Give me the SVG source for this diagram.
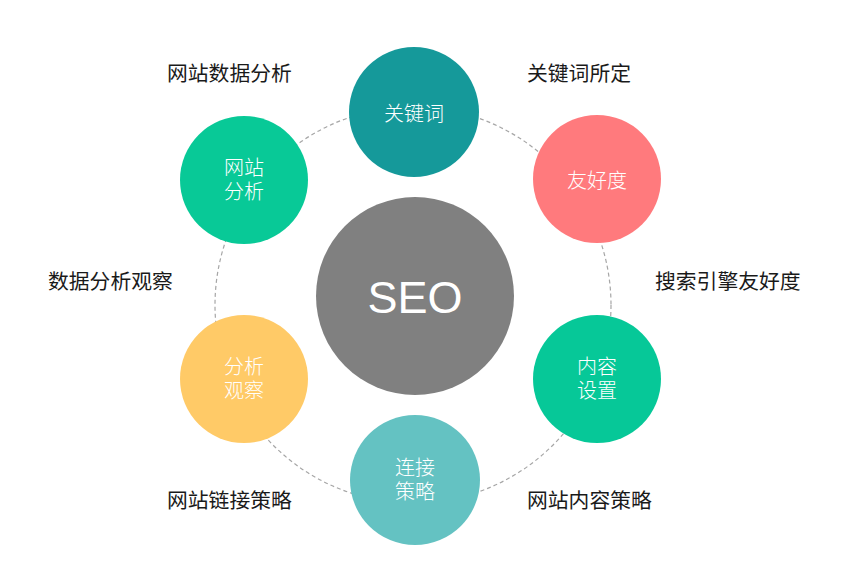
<svg xmlns="http://www.w3.org/2000/svg" width="854" height="564" viewBox="0 0 854 564">
<style>
.ring{fill:none;stroke:#a6a6a6;stroke-width:1.2;stroke-dasharray:4 3}
.in{font-family:"Noto Sans CJK SC","Noto Sans",sans-serif;font-size:20px;font-weight:300;fill:#ffffff;text-anchor:middle}
.out{font-family:"Noto Sans CJK SC","Noto Sans",sans-serif;font-size:20.8px;font-weight:400;fill:#1a1a1a;text-anchor:start}
.seo{font-family:"Liberation Sans",Arial,sans-serif;font-size:45px;fill:#ffffff;text-anchor:middle}
</style>
<rect width="854" height="564" fill="#ffffff"/>
<g id="connectors">
<circle class="ring" cx="413" cy="305" r="198"/>
</g>
<g id="seo">
<circle cx="415" cy="296" r="99" fill="#808080"/>
<text class="seo" x="415" y="313">SEO</text>
</g>
<g id="keyword">
<circle cx="414" cy="112" r="65" fill="#15999a"/>
<text class="in" x="414" y="121">关键词</text>
</g>
<g id="friendly">
<circle cx="597" cy="179" r="64" fill="#ff7a7d"/>
<text class="in" x="597" y="188">友好度</text>
</g>
<g id="content">
<circle cx="597" cy="379" r="64" fill="#06c898"/>
<text class="in" x="597" y="374">内容<tspan x="597" dy="24">设置</tspan></text>
</g>
<g id="link">
<circle cx="415" cy="480" r="65" fill="#64c2c2"/>
<text class="in" x="415" y="475">连接<tspan x="415" dy="24">策略</tspan></text>
</g>
<g id="observe">
<circle cx="244" cy="379" r="64" fill="#ffca67"/>
<text class="in" x="244" y="374">分析<tspan x="244" dy="24">观察</tspan></text>
</g>
<g id="analysis">
<circle cx="244" cy="180" r="64" fill="#08c997"/>
<text class="in" x="244" y="175">网站<tspan x="244" dy="24">分析</tspan></text>
</g>
<g id="labels">
<text class="out" x="167" y="81">网站数据分析</text>
<text class="out" x="527" y="81">关键词所定</text>
<text class="out" x="48" y="289">数据分析观察</text>
<text class="out" x="655" y="289">搜索引擎友好度</text>
<text class="out" x="167" y="508">网站链接策略</text>
<text class="out" x="527" y="508">网站内容策略</text>
</g>
</svg>
